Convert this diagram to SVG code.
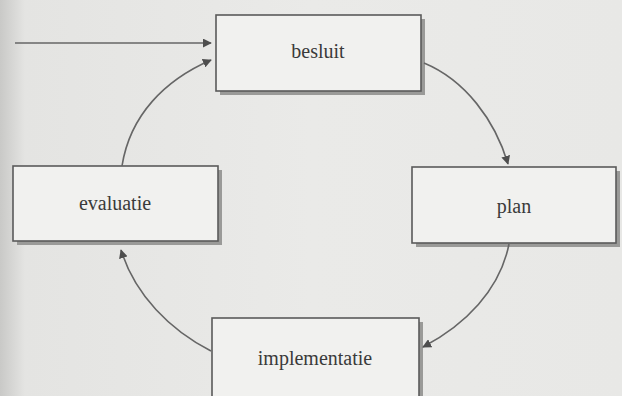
<svg xmlns="http://www.w3.org/2000/svg" width="622" height="396" viewBox="0 0 622 396">
  <defs>
    <linearGradient id="bg" x1="0" y1="0" x2="1" y2="0">
      <stop offset="0" stop-color="#c9c9c7"/>
      <stop offset="0.04" stop-color="#e4e4e2"/>
      <stop offset="0.5" stop-color="#eaeae8"/>
      <stop offset="1" stop-color="#e8e8e6"/>
    </linearGradient>
    <marker id="ah" viewBox="0 0 10 10" refX="9" refY="5" markerWidth="9" markerHeight="9" markerUnits="userSpaceOnUse" orient="auto">
      <path d="M0,0 L10,5 L0,10 z" fill="#4e4e4e"/>
    </marker>
    <style>
      .shadow { fill: #9a9a98; }
      .box { fill: #f1f1ef; stroke: #5a5a5a; stroke-width: 1.6; }
      .lbl { font-family: "Liberation Serif", "Times New Roman", serif; font-size: 20px; fill: #3a3a3a; text-anchor: middle; }
      .conn { fill: none; stroke: #666; stroke-width: 1.6; marker-end: url(#ah); }
    </style>
  </defs>
  <rect x="0" y="0" width="622" height="396" fill="url(#bg)"/>

  <g id="besluit">
    <rect class="shadow" x="220" y="19" width="205" height="76"/>
    <rect class="box" x="216" y="15" width="205" height="76"/>
    <text class="lbl" x="318" y="58">besluit</text>
  </g>

  <g id="plan">
    <rect class="shadow" x="416" y="171" width="204" height="76"/>
    <rect class="box" x="412" y="167" width="204" height="76"/>
    <text class="lbl" x="514" y="213">plan</text>
  </g>

  <g id="evaluatie">
    <rect class="shadow" x="17" y="170" width="205" height="75"/>
    <rect class="box" x="13" y="166" width="205" height="75"/>
    <text class="lbl" x="115" y="210">evaluatie</text>
  </g>

  <g id="implementatie">
    <rect class="shadow" x="216" y="322" width="207" height="80"/>
    <rect class="box" x="212" y="318" width="207" height="80"/>
    <text class="lbl" x="315" y="365">implementatie</text>
  </g>

  <g id="connectors">
    <path class="conn" d="M15,43 L211,43"/>
    <path class="conn" d="M122,166 C130,115 165,80 211,60"/>
    <path class="conn" d="M424,63 C465,80 495,120 508,164"/>
    <path class="conn" d="M509,244 C500,290 465,325 423,347"/>
    <path class="conn" d="M211,351 C170,330 135,295 121,250"/>
  </g>
</svg>
